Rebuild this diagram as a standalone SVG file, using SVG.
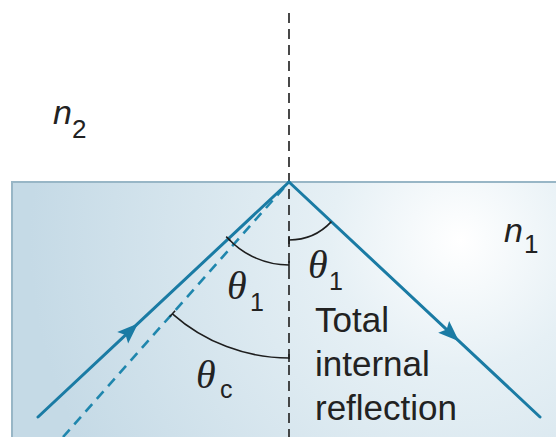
<svg xmlns="http://www.w3.org/2000/svg" width="556" height="437" viewBox="0 0 556 437">
<defs>
<radialGradient id="glass" cx="460" cy="240" r="430" gradientUnits="userSpaceOnUse" fx="460" fy="240">
<stop offset="0" stop-color="#ffffff"/>
<stop offset="0.3" stop-color="#e6f0f5"/>
<stop offset="1" stop-color="#c5dae6"/>
</radialGradient>
<marker id="arrow" markerUnits="userSpaceOnUse" markerWidth="26" markerHeight="20" refX="22" refY="10" orient="auto" viewBox="0 0 26 20">
<path d="M1,2 L22,10 L1,18 L5,10 Z" fill="#1a7ba4"/>
</marker>
<style>
.ray{fill:none;stroke:#1a7ba4;stroke-width:3;stroke-linecap:round}
.crit{fill:none;stroke:#1f86ad;stroke-width:2.6;stroke-dasharray:10 7}
.normal{fill:none;stroke:#2a2a2a;stroke-width:1.7;stroke-dasharray:10 6}
.arc{fill:none;stroke:#1e1e1e;stroke-width:1.6}
.th{font-family:"Liberation Serif","Times New Roman",serif;font-style:italic;font-size:40px;fill:#222}
.sub{font-family:"Liberation Sans",Arial,sans-serif;font-size:25px;fill:#222}
.n{font-family:"Liberation Sans",Arial,sans-serif;font-style:italic;font-size:34px;fill:#222}
.nsub{font-family:"Liberation Sans",Arial,sans-serif;font-size:26px;fill:#222}
.lbl{font-family:"Liberation Sans",Arial,sans-serif;font-size:35px;fill:#222}
</style>
</defs>
<rect width="556" height="437" fill="#ffffff"/>
<g id="medium">
<rect x="12" y="182" width="560" height="270" fill="url(#glass)" stroke="#98b6c6" stroke-width="2"/>
</g>
<g id="connectors">
<line id="normal" class="normal" x1="289" y1="13" x2="289" y2="437"/>
<path id="critical-ray" class="crit" d="M63,437 L289,182"/>
<path id="incident-ray" class="ray" d="M38,417 L138,323.4 L289,182" marker-mid="url(#arrow)"/>
<path id="reflected-ray" class="ray" d="M289,182 L459,341.2 L540,417" marker-mid="url(#arrow)"/>
</g>
<g id="angle-theta1-left">
<path class="arc" d="M228.4,238.7 A83,83 0 0 0 289,265"/>
<path class="arc" d="M226.2,236.7 L230.6,240.8 M289,261 L289,269"/>
<text class="th" x="227" y="299">θ</text>
<text class="sub" x="250" y="311">1</text>
</g>
<g id="angle-theta1-right">
<path class="arc" d="M289,240 A58,58 0 0 0 331.4,221.6"/>
<path class="arc" d="M289,236 L289,244"/>
<text class="th" x="308" y="278">θ</text>
<text class="sub" x="329" y="290">1</text>
</g>
<g id="angle-thetac">
<path class="arc" d="M172.4,313.8 A176,176 0 0 0 289,358"/>
<path class="arc" d="M169.7,316.8 L175.1,310.8 M289,354 L289,362"/>
<text class="th" x="196" y="388">θ</text>
<text class="sub" x="220" y="398">c</text>
</g>
<g id="label-n2">
<text class="n" x="53" y="124">n</text>
<text class="nsub" x="72" y="138">2</text>
</g>
<g id="label-n1">
<text class="n" x="504" y="242">n</text>
<text class="nsub" x="524" y="253">1</text>
</g>
<g id="label-tir">
<text class="lbl" x="315" y="332">Total</text>
<text class="lbl" x="315" y="376">internal</text>
<text class="lbl" x="315" y="420">reflection</text>
</g>
</svg>
